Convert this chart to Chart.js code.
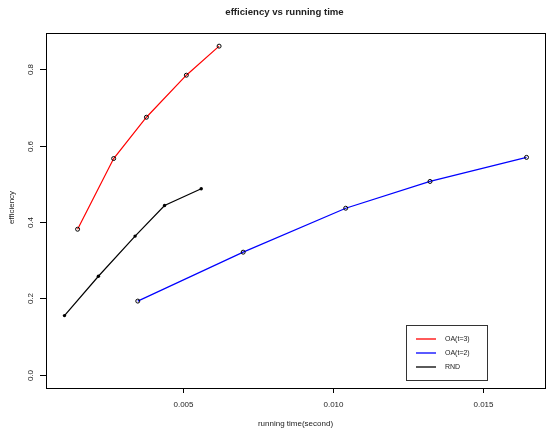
<!DOCTYPE html>
<html>
<head>
<meta charset="utf-8">
<script src="https://cdn.jsdelivr.net/npm/chart.js@4/dist/chart.umd.min.js"></script>
<style>
  html, body { margin: 0; padding: 0; background: #fff; overflow: hidden; }
  #wrap { width: 547px; height: 430px; overflow: hidden; }
  canvas { display: block; }
</style>
</head>
<body>
<div id="wrap"><canvas id="effChart" width="550" height="430"></canvas></div>
<script>
// running time (second) / efficiency
const oa3Time = [0.001495, 0.002698, 0.003790, 0.005122, 0.006214];
const oa3Eff  = [0.381, 0.566, 0.674, 0.784, 0.860];

const oa2Time = [0.003502, 0.007017, 0.010436, 0.013247, 0.016465];
const oa2Eff  = [0.193, 0.321, 0.436, 0.506, 0.569];

const rndTime = [0.001058, 0.002189, 0.003413, 0.004395, 0.005618];
const rndEff  = [0.155, 0.258, 0.363, 0.443, 0.487];

const xTicks = [0.005, 0.010, 0.015];
const yTicks = [0.0, 0.2, 0.4, 0.6, 0.8];
const yLim = [0, 0.86];

const FONT = '"Liberation Sans", Arial, Helvetica, sans-serif';

// R-style axis range: data range widened by 4% each side
function rRange(lo, hi) {
  const d = (hi - lo) * 0.04;
  return [lo - d, hi + d];
}
const allTimes = oa3Time.concat(oa2Time, rndTime);
const xRange = rRange(Math.min(...allTimes), Math.max(...allTimes));
const yRange = rRange(yLim[0], yLim[1]);

const toPts = (xs, ys) => xs.map((x, i) => ({ x: x, y: ys[i] }));

const rPlot = {
  id: "rPlot",
  afterDraw(chart) {
    const ctx = chart.ctx;
    const a = chart.chartArea;
    const xs = chart.scales.x, ys = chart.scales.y;
    ctx.save();
    ctx.strokeStyle = "#000";
    ctx.fillStyle = "#222";
    ctx.lineWidth = 1;

    // box
    ctx.strokeRect(Math.round(a.left) + 0.5, Math.round(a.top) + 0.5,
      Math.round(a.right - a.left), Math.round(a.bottom - a.top));

    // x axis
    ctx.font = "8px " + FONT;
    ctx.textAlign = "center";
    ctx.textBaseline = "middle";
    xTicks.forEach(t => {
      const px = Math.round(xs.getPixelForValue(t)) + 0.5;
      ctx.beginPath();
      ctx.moveTo(px, a.bottom);
      ctx.lineTo(px, a.bottom + 5);
      ctx.stroke();
      ctx.fillText(t.toFixed(3), px, 404.5);
    });

    // y axis (labels rotated like R)
    yTicks.forEach(t => {
      const py = Math.round(ys.getPixelForValue(t)) + 0.5;
      ctx.beginPath();
      ctx.moveTo(a.left, py);
      ctx.lineTo(a.left - 6, py);
      ctx.stroke();
      ctx.save();
      ctx.translate(31, py);
      ctx.rotate(-Math.PI / 2);
      ctx.fillText(t.toFixed(1), 0, 0);
      ctx.restore();
    });

    // titles
    ctx.fillText("running time(second)", (a.left + a.right) / 2, 424);
    ctx.save();
    ctx.translate(12, (a.top + a.bottom) / 2 - 3);
    ctx.rotate(-Math.PI / 2);
    ctx.fillText("efficiency", 0, 0);
    ctx.restore();

    ctx.font = "bold 9.6px " + FONT;
    ctx.fillText("efficiency vs running time", 284.5, 12);

    // legend
    ctx.strokeStyle = "#333";
    ctx.strokeRect(406.5, 325.5, 81, 55);
    ctx.font = "7px " + FONT;
    ctx.textAlign = "left";
    chart.data.datasets.forEach((ds, i) => {
      const y = 339 + i * 14;
      ctx.strokeStyle = ds.borderColor;
      ctx.lineWidth = 1.3;
      ctx.beginPath();
      ctx.moveTo(416, y);
      ctx.lineTo(436, y);
      ctx.stroke();
      ctx.fillText(ds.label, 445, y);
    });
    ctx.restore();
  }
};

new Chart(document.getElementById("effChart"), {
  type: "scatter",
  data: {
    datasets: [
      {
        label: "OA(t=3)",
        data: toPts(oa3Time, oa3Eff),
        showLine: true,
        borderColor: "#ff0000",
        borderWidth: 1.2,
        pointRadius: 2,
        pointBorderColor: "#000",
        pointBackgroundColor: "rgba(0,0,0,0)",
        pointBorderWidth: 1
      },
      {
        label: "OA(t=2)",
        data: toPts(oa2Time, oa2Eff),
        showLine: true,
        borderColor: "#0000ff",
        borderWidth: 1.2,
        pointRadius: 2,
        pointBorderColor: "#000",
        pointBackgroundColor: "rgba(0,0,0,0)",
        pointBorderWidth: 1
      },
      {
        label: "RND",
        data: toPts(rndTime, rndEff),
        showLine: true,
        borderColor: "#000000",
        borderWidth: 1.2,
        pointRadius: 1.7,
        pointBorderColor: "#000",
        pointBackgroundColor: "#000",
        pointBorderWidth: 0
      }
    ]
  },
  options: {
    responsive: false,
    animation: false,
    layout: { padding: { left: 46, top: 33, right: 0.4, bottom: 42 } },
    plugins: {
      legend: { display: false },
      title: { display: false },
      tooltip: { enabled: false }
    },
    scales: {
      x: { type: "linear", display: false, min: xRange[0], max: xRange[1] },
      y: { type: "linear", display: false, min: yRange[0], max: yRange[1] }
    }
  },
  plugins: [rPlot]
});
</script>
</body>
</html>
